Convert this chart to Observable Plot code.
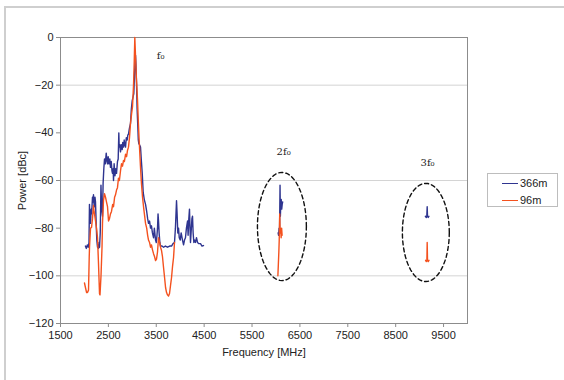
<!DOCTYPE html>
<html>
<head>
<meta charset="utf-8">
<script src="https://cdn.jsdelivr.net/npm/d3@7"></script>
<script src="https://cdn.jsdelivr.net/npm/@observablehq/plot@0.6"></script>
<style>
  html, body { margin: 0; padding: 0; background: #fff; }
  #wrap { position: relative; width: 564px; height: 380px; overflow: hidden; font-family: "Liberation Sans", Arial, sans-serif; }
  #outer { position: absolute; left: 4px; top: 6px; width: 620px; height: 420px; border: 2px solid #cfcfcf; box-sizing: border-box; }
  #legend { position: absolute; left: 487px; top: 173px; width: 71px; height: 34px; border: 1px solid #bdbdbd; box-sizing: border-box; font-size: 11px; color: #222; background: #fff; }
  .item { position: absolute; left: 14px; height: 14px; display: flex; align-items: center; }
  .sw { width: 16px; height: 0; border-top: 1.5px solid; margin-right: 2px; }
  #chart { position: absolute; left: 0; top: 0; }
</style>
</head>
<body>
<div id="wrap">
  <div id="outer"></div>
  <div id="chart"></div>
  <div id="legend"></div>
</div>
<script>
// ---- data (frequency MHz, power dBc) ----
const seriesNames = ["366m", "96m"];
const seriesColors = ["#2f3590", "#f4511e"];

const blue_f0 = [
  [2020,-87.5],[2040,-88.5],[2060,-87],[2080,-88],[2095,-86],[2105,-70],[2115,-76],[2127,-78],[2140,-72],[2150,-74],
  [2168,-67],[2180,-69],[2189,-66],[2200,-70],[2210,-71],[2220,-67],[2231,-69],[2245,-78],[2258,-85],[2273,-88],
  [2285,-87],[2294,-88.5],[2305,-86],[2315,-88],[2330,-82],[2345,-62],[2360,-72],[2377,-75],[2390,-61],[2405,-55],
  [2419,-51],[2435,-53],[2455,-48.5],[2470,-52],[2482,-53],[2495,-50],[2513,-53],[2530,-51],[2544,-54.5],[2560,-52],
  [2575,-56],[2586,-57],[2600,-55],[2607,-60],[2620,-53],[2638,-58],[2655,-55],[2670,-57],[2690,-52],[2705,-51],
  [2712,-45],[2718,-40],[2726,-46],[2740,-45],[2753,-48],[2770,-45],[2789,-47],[2800,-44],[2816,-46],[2830,-43],
  [2845,-45],[2858,-46],[2875,-42],[2893,-43],[2905,-41],[2920,-40.5],[2940,-38],[2962,-36],[2980,-30],[2998,-26.5],
  [3015,-25],[3031,-23.5],[3045,-16],[3052,-12.5],[3060,-8],[3067,-7.5],[3075,-11],[3088,-19.5],[3100,-30],[3115,-37.5],
  [3125,-43],[3136,-44.5],[3150,-45],[3171,-46],[3190,-52],[3207,-57],[3227,-65],[3250,-68],[3276,-70],[3300,-73],
  [3320,-76],[3338,-78],[3360,-77],[3380,-80],[3400,-79],[3420,-82],[3443,-84],[3460,-80],[3475,-83],[3485,-85],
  [3500,-86],[3515,-83],[3526,-80],[3537,-74],[3547,-77],[3560,-82],[3575,-86],[3589,-87.5],[3620,-87.5],[3652,-88],
  [3690,-87.5],[3735,-88],[3780,-87.5],[3819,-87.5],[3850,-86.5],[3881,-86],[3900,-80],[3910,-75],[3923,-68.5],[3935,-74],
  [3950,-82],[3965,-80],[3980,-84],[4000,-85],[4020,-82],[4048,-85],[4070,-87],[4090,-85],[4110,-84],[4130,-80],
  [4153,-77],[4165,-83],[4180,-76],[4194,-72],[4205,-80],[4215,-86],[4230,-81],[4245,-76],[4257,-75],[4270,-82],
  [4285,-86],[4300,-85],[4320,-86],[4340,-84],[4362,-86],[4390,-86.5],[4424,-86.5],[4455,-87.5],[4487,-87.3]
];
const orange_f0 = [
  [2001,-103],[2022,-105],[2045,-107],[2064,-107],[2085,-106],[2100,-92],[2106,-88],[2127,-80],[2148,-79.7],[2168,-76],
  [2189,-70.5],[2200,-73],[2210,-74],[2231,-77],[2252,-80],[2273,-84],[2294,-95],[2315,-107.5],[2325,-108],[2346,-100],
  [2367,-88],[2377,-78],[2398,-68.4],[2419,-65.5],[2440,-67],[2460,-69],[2482,-71],[2503,-77],[2523,-76],[2544,-74],
  [2565,-73],[2590,-70],[2607,-71],[2630,-67],[2649,-66],[2670,-64],[2690,-63],[2711,-59],[2730,-60],[2753,-56],
  [2774,-53],[2795,-54],[2816,-51.6],[2835,-52],[2858,-49],[2880,-50],[2899,-47.4],[2920,-46],[2941,-42],[2962,-36],
  [2985,-32],[3004,-29],[3025,-20],[3040,-10],[3052,0],[3067,-8],[3085,-17],[3108,-26],[3125,-35],[3140,-42],
  [3171,-54.5],[3190,-61],[3213,-67],[3240,-72],[3276,-78],[3300,-80],[3320,-83],[3338,-85],[3360,-86],[3380,-88],
  [3400,-87],[3420,-89],[3443,-90.7],[3465,-92],[3485,-93.6],[3505,-93],[3526,-90],[3547,-84],[3570,-86],[3589,-88],
  [3610,-89.4],[3630,-92],[3652,-96.5],[3675,-101],[3694,-104.9],[3715,-107],[3735,-108],[3756,-108.5],[3777,-107.4],[3798,-104],
  [3819,-100.7],[3840,-96],[3861,-92.3],[3881,-86]
];
const blue_2f0 = [
  [6045,-82],[6055,-83],[6065,-80],[6075,-81],[6085,-62],[6092,-75],[6100,-70],[6110,-68],[6120,-72],[6130,-70],[6140,-69]
];
const orange_2f0 = [
  [6040,-100],[6050,-95],[6060,-90],[6068,-85],[6078,-74],[6088,-82],[6098,-80],[6108,-84],[6118,-80],[6128,-83]
];
const blue_3f0 = [
  [9120,-75],[9140,-75.5],[9150,-75],[9158,-71],[9165,-75],[9180,-75.5],[9195,-75]
];
const orange_3f0 = [
  [9125,-93.5],[9140,-94],[9152,-93.5],[9158,-86],[9165,-93.5],[9180,-94],[9195,-93.5]
];

const xTicks = [1500, 2500, 3500, 4500, 5500, 6500, 7500, 8500, 9500];
const yTicks = [-120, -100, -80, -60, -40, -20, 0];
const yGrid = [-100, -60, -20];

// annotation labels and harmonic ellipses (center x, center y, radius x, radius y)
const annotations = [
  {x: 3590, y: -7.5, text: "f₀"},
  {x: 6160, y: -47.8, text: "2f₀"},
  {x: 9166, y: -52.5, text: "3f₀"}
];
const ellipses = [
  {id: "2f0", cx: 6124, cy: -79.3, rx: 511, ry: 22.7},
  {id: "3f0", cx: 9130, cy: -81.8, rx: 490, ry: 20.6}
];

// ---- build tables ----
const rows = [];
function add(arr, series, seg) {
  for (const [f, p] of arr) rows.push({freq: f, power: p, series, seg: series + "-" + seg});
}
add(blue_f0, "366m", "f0"); add(blue_2f0, "366m", "2f0"); add(blue_3f0, "366m", "3f0");
add(orange_f0, "96m", "f0"); add(orange_2f0, "96m", "2f0"); add(orange_3f0, "96m", "3f0");

const ellipsePts = [];
for (const e of ellipses) {
  for (let i = 0; i <= 72; i++) {
    const t = (i / 72) * 2 * Math.PI;
    ellipsePts.push({id: e.id, x: e.cx + e.rx * Math.cos(t), y: e.cy + e.ry * Math.sin(t)});
  }
}

const chart = Plot.plot({
  width: 564,
  height: 380,
  marginLeft: 60,
  marginRight: 97,
  marginTop: 37,
  marginBottom: 57,
  style: {fontFamily: "'Liberation Sans', Arial, sans-serif", fontSize: "11px", color: "#222", background: "transparent"},
  x: {domain: [1500, 10000]},
  y: {domain: [-120, 0]},
  color: {domain: seriesNames, range: seriesColors},
  marks: [
    Plot.gridY(yGrid, {stroke: "#d4d4d4", strokeOpacity: 1, strokeWidth: 1}),
    Plot.frame({stroke: "#8c8c8c", strokeWidth: 1}),
    Plot.axisY({ticks: yTicks, tickSize: 4, tickPadding: 3, stroke: "#8c8c8c", label: "Power [dBc]", labelAnchor: "center", labelArrow: "none", labelOffset: 42}),
    Plot.axisX({ticks: xTicks, tickSize: 4, tickPadding: 4, tickFormat: d => String(d), stroke: "#8c8c8c", label: "Frequency [MHz]", labelAnchor: "center", labelArrow: "none", labelOffset: 32}),
    Plot.line(rows.filter(d => d.series === "366m"), {x: "freq", y: "power", z: "seg", stroke: "series", strokeWidth: 1.4}),
    Plot.line(rows.filter(d => d.series === "96m"), {x: "freq", y: "power", z: "seg", stroke: "series", strokeWidth: 1.4}),
    Plot.line(ellipsePts, {x: "x", y: "y", z: "id", stroke: "#111", strokeWidth: 1.4, strokeDasharray: "4,3"}),
    Plot.text(annotations, {x: "x", y: "y", text: "text", fontFamily: "'DejaVu Serif', 'Liberation Serif', serif", fontSize: 10, fill: "#222"})
  ]
});
document.getElementById("chart").appendChild(chart);

// legend
const legend = document.getElementById("legend");
seriesNames.forEach((name, i) => {
  const it = document.createElement("div");
  it.className = "item";
  it.style.top = (2 + i * 17) + "px";
  const sw = document.createElement("span");
  sw.className = "sw";
  sw.style.borderTopColor = seriesColors[i];
  const tx = document.createElement("span");
  tx.textContent = name;
  it.appendChild(sw); it.appendChild(tx);
  legend.appendChild(it);
});
</script>
</body>
</html>
